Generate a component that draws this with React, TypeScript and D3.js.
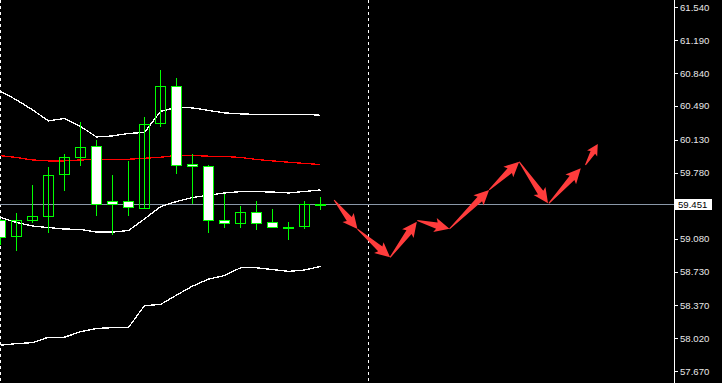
import React from "react";
import * as d3 from "d3";

// ---- Data ----
const candleOpen = [59.278, 59.105, 59.275, 59.318, 59.765, 59.946, 60.063, 59.477, 59.477, 59.403, 60.308, 60.702, 59.871, 59.850, 59.275, 59.243, 59.360, 59.254, 59.207, 59.211, 59.451];
const candleHigh = [59.285, 59.349, 59.651, 59.839, 59.981, 60.319, 60.130, 59.757, 59.906, 60.375, 60.876, 60.790, 59.981, 59.861, 59.552, 59.427, 59.477, 59.395, 59.254, 59.477, 59.520];
const candleLow = [59.012, 58.951, 59.249, 59.143, 59.590, 59.856, 59.324, 59.118, 59.324, 59.403, 60.272, 59.771, 59.445, 59.143, 59.196, 59.196, 59.175, 59.200, 59.068, 59.185, 59.388];
const candleClose = [59.102, 59.275, 59.321, 59.754, 59.946, 60.052, 59.445, 59.445, 59.413, 60.297, 60.702, 59.861, 59.850, 59.275, 59.243, 59.360, 59.243, 59.200, 59.207, 59.445, 59.451];

const bandUpper = [60.647, 60.556, 60.450, 60.333, 60.359, 60.274, 60.162, 60.173, 60.199, 60.210, 60.434, 60.476, 60.471, 60.444, 60.418, 60.407, 60.402, 60.402, 60.402, 60.402, 60.393];
const bandMiddle = [59.963, 59.944, 59.917, 59.907, 59.907, 59.917, 59.922, 59.925, 59.925, 59.935, 59.946, 59.965, 59.965, 59.957, 59.954, 59.944, 59.922, 59.907, 59.893, 59.880, 59.869];
const bandInner = [59.305, 59.252, 59.214, 59.198, 59.182, 59.179, 59.150, 59.150, 59.166, 59.290, 59.420, 59.475, 59.518, 59.542, 59.566, 59.580, 59.580, 59.576, 59.566, 59.582, 59.598];
const bandLower = [57.947, 57.963, 57.974, 58.032, 58.032, 58.089, 58.125, 58.133, 58.135, 58.368, 58.380, 58.479, 58.575, 58.650, 58.687, 58.770, 58.770, 58.751, 58.732, 58.746, 58.785];

// forecast arrows: start/end bar index and price
const arrowStartBar = [20.85, 22.31, 24.35, 26.05, 28.06, 30.54, 32.42, 34.27, 36.56];
const arrowStartPrice = [59.491, 59.182, 58.881, 59.272, 59.185, 59.598, 59.899, 59.456, 59.864];
const arrowEndBar = [22.31, 24.35, 26.02, 28.06, 30.54, 32.42, 34.22, 36.27, 37.33];
const arrowEndPrice = [59.182, 58.881, 59.260, 59.185, 59.598, 59.899, 59.456, 59.829, 60.088];

const priceTicks = [61.54, 61.19, 60.84, 60.49, 60.13, 59.78, 59.08, 58.73, 58.37, 58.02, 57.67];
const currentPrice = 59.451;
const separatorBars = [0, 23];

const W = 722;
const H = 383;
const AXIS_X = 674;

const FONT = "'Liberation Sans', Arial, sans-serif";

export default function App() {
  const x = d3.scaleLinear().domain([0, 1]).range([0.5, 16.5]);
  const y = d3.scaleLinear().domain([57.67, 61.54]).range([371.2, 7.4]);
  const crisp = (v: number) => Math.round(v) + 0.5;

  const lineGen = (vals: number[]) =>
    d3
      .line<number>()
      .x((_, i) => x(i))
      .y((v) => y(v))(vals) as string;

  const arrowPath = (x0: number, y0: number, x1: number, y1: number) => {
    const dx = x1 - x0;
    const dy = y1 - y0;
    const L = Math.sqrt(dx * dx + dy * dy);
    const ux = dx / L;
    const uy = dy / L;
    const nx = -uy;
    const ny = ux;
    const hl = Math.min(13, L * 0.4);
    const w1 = Math.min(3.2, hl * 0.27);
    const w2 = Math.min(7.2, hl * 0.6);
    const bx = x1 - ux * hl;
    const by = y1 - uy * hl;
    const bbx = x1 - ux * hl * 1.15;
    const bby = y1 - uy * hl * 1.15;
    const pts: [number, number][] = [
      [x0 + nx * 0.5, y0 + ny * 0.5],
      [bx + nx * w1, by + ny * w1],
      [bbx + nx * w2, bby + ny * w2],
      [x1, y1],
      [bbx - nx * w2, bby - ny * w2],
      [bx - nx * w1, by - ny * w1],
      [x0 - nx * 0.5, y0 - ny * 0.5],
    ];
    return "M" + pts.map((p) => p[0].toFixed(2) + "," + p[1].toFixed(2)).join("L") + "Z";
  };

  const priceY = crisp(y(currentPrice));

  return (
    <div style={{ width: W, height: H, position: "absolute", left: 0, top: 0 }}>
      <style>{`body{margin:0;background:#000;}`}</style>
      <svg width={W} height={H} style={{ display: "block", background: "#000" }}>
        <rect x={0} y={0} width={W} height={H} fill="#000" />

        {/* period separators */}
        {separatorBars.map((b, i) => (
          <line
            key={"sep" + i}
            x1={x(b)}
            x2={x(b)}
            y1={0}
            y2={H}
            stroke="#fff"
            strokeWidth={1}
            strokeDasharray="3,3"
            shapeRendering="crispEdges"
          />
        ))}

        {/* current price line */}
        <line x1={0} x2={AXIS_X} y1={priceY} y2={priceY} stroke="#8a98a8" strokeWidth={1} shapeRendering="crispEdges" />

        {/* bands */}
        <path d={lineGen(bandUpper)} fill="none" stroke="#fff" strokeWidth={1.3} shapeRendering="crispEdges" />
        <path d={lineGen(bandInner)} fill="none" stroke="#fff" strokeWidth={1.3} shapeRendering="crispEdges" />
        <path d={lineGen(bandLower)} fill="none" stroke="#fff" strokeWidth={1.3} shapeRendering="crispEdges" />
        <path d={lineGen(bandMiddle)} fill="none" stroke="#ff0000" strokeWidth={1.3} shapeRendering="crispEdges" />

        {/* candles */}
        {candleOpen.map((o, i) => {
          const c = candleClose[i];
          const cx = x(i);
          const top = Math.round(y(Math.max(o, c)));
          const bot = Math.round(y(Math.min(o, c)));
          const bear = c < o;
          const doji = bot - top < 1;
          return (
            <g key={"c" + i} shapeRendering="crispEdges">
              <line x1={cx} x2={cx} y1={y(candleHigh[i])} y2={y(candleLow[i])} stroke="#00ff00" strokeWidth={1} />
              {doji ? (
                <line x1={cx - 5.5} x2={cx + 5.5} y1={top + 0.5} y2={top + 0.5} stroke="#00ff00" strokeWidth={2} />
              ) : (
                <rect
                  x={cx - 5}
                  y={top + 0.5}
                  width={10}
                  height={bot - top}
                  fill={bear ? "#fff" : "none"}
                  stroke="#00ff00"
                  strokeWidth={1.2}
                />
              )}
            </g>
          );
        })}

        {/* forecast arrows */}
        {arrowStartBar.map((sb, i) => (
          <path
            key={"a" + i}
            d={arrowPath(x(sb), y(arrowStartPrice[i]), x(arrowEndBar[i]), y(arrowEndPrice[i]))}
            fill="#ff3c3c"
          />
        ))}

        {/* price axis */}
        <rect x={AXIS_X + 1} y={0} width={W - AXIS_X - 1} height={H} fill="#000" />
        <line x1={AXIS_X + 0.5} x2={AXIS_X + 0.5} y1={0} y2={H} stroke="#fff" strokeWidth={1} shapeRendering="crispEdges" />
        {priceTicks.map((p, i) => (
          <g key={"t" + i}>
            <line
              x1={AXIS_X + 1}
              x2={AXIS_X + 4}
              y1={crisp(y(p))}
              y2={crisp(y(p))}
              stroke="#fff"
              strokeWidth={1}
              shapeRendering="crispEdges"
            />
            <text x={680} y={y(p)} dy="0.35em" fill="#e8e8e8" fontFamily={FONT} fontSize={9.6}>
              {p.toFixed(3)}
            </text>
          </g>
        ))}
        <rect x={AXIS_X + 1} y={priceY - 5.5} width={37} height={11} fill="#fff" shapeRendering="crispEdges" />
        <text x={678} y={priceY} dy="0.35em" fill="#000" fontFamily={FONT} fontSize={9.6}>
          {currentPrice.toFixed(3)}
        </text>
      </svg>
    </div>
  );
}
